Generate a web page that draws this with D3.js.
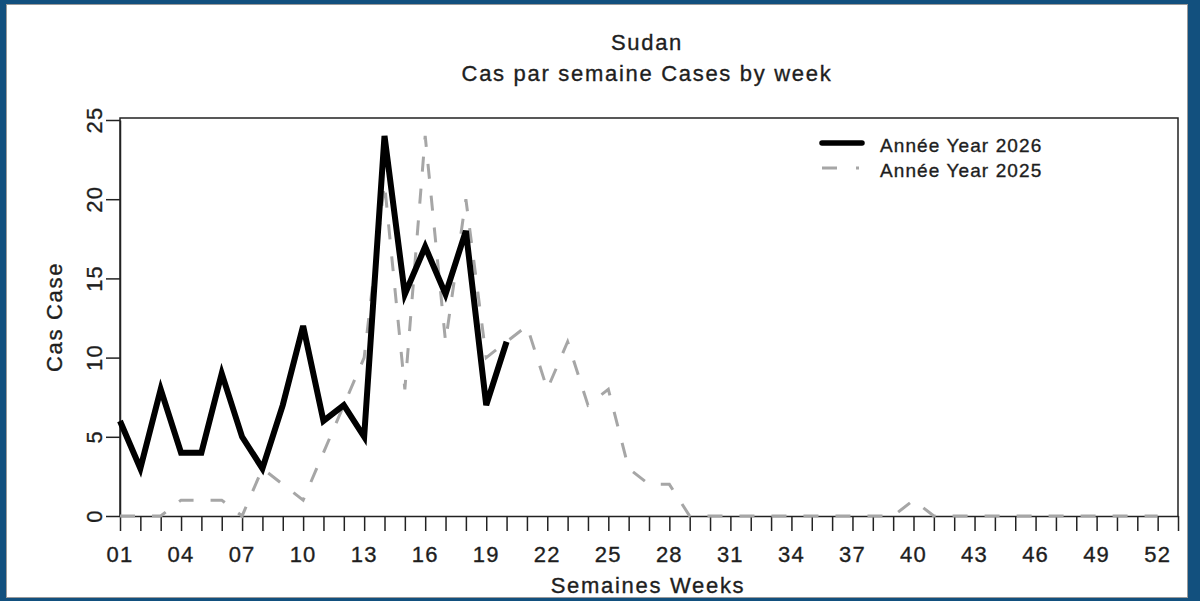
<!DOCTYPE html>
<html lang="fr">
<head>
    <meta charset="utf-8">
    <title>Sudan - Cas par semaine</title>
    <script type="text/javascript" src="https://cdn.jsdelivr.net/npm/d3@7"></script>
    <style>
        html, body { margin: 0; padding: 0; background: #ffffff; }
        svg text { font-family: "Liberation Sans", Arial, sans-serif; fill: #1e1e1e; stroke: #1e1e1e; stroke-width: 0.35px; }
    </style>
</head>
<body>
<script type="text/javascript">
    // weeks 1..20 of 2026, weeks 1..52 of 2025
    var weeks2026 = d3.range(1, 21);
    var cases2026 = [6, 3, 8, 4, 4, 9, 5, 3, 7, 12, 6, 7, 5, 24, 14, 17, 14, 18, 7, 11];

    var weeks2025 = d3.range(1, 53);
    var cases2025 = [0, 0, 0, 1, 1, 1, 0, 3, 2, 1, 4, 7, 10, 21, 8, 24, 11, 20, 10, 11,
                     12, 8, 11, 7, 8, 3, 2, 2, 0, 0, 0, 0, 0, 0, 0, 0, 0, 0, 0, 1,
                     0, 0, 0, 0, 0, 0, 0, 0, 0, 0, 0, 0];

    var yTicks = [0, 5, 10, 15, 20, 25];
    var xLabelWeeks = d3.range(1, 53, 3);   // 01, 04, ... 52
    var legendLabels = ["Année Year 2026", "Année Year 2025"];

    var w = 1200;
    var h = 601;
    // plot box edges ("top" is taken by window.top, so prefix them)
    var boxLeft = 120, boxRight = 1178, boxTop = 118, boxBottom = 516;

    var xScale = d3.scaleLinear()
        .domain([1, 53])
        .range([boxLeft, boxRight]);
    var yScale = d3.scaleLinear()
        .domain([0, 25])
        .range([boxBottom, boxTop + 2]);

    var svg = d3.select("body")
        .append("svg")
        .attr("width", w)
        .attr("height", h);

    // blue frame around the picture
    svg.append("rect")
        .attr("x", 0).attr("y", 0)
        .attr("width", w).attr("height", h)
        .attr("fill", "#12507e");
    svg.append("rect")
        .attr("x", 6.5).attr("y", 4.5)
        .attr("width", 1181).attr("height", 593)
        .attr("fill", "#ffffff")
        .attr("stroke", "#9a9a9a")
        .attr("stroke-width", 1);

    // titles
    svg.append("text")
        .attr("x", 647).attr("y", 50)
        .attr("text-anchor", "middle")
        .attr("font-size", "22px")
        .attr("letter-spacing", "1.7px")
        .text("Sudan");
    svg.append("text")
        .attr("x", 647).attr("y", 81)
        .attr("text-anchor", "middle")
        .attr("font-size", "22px")
        .attr("letter-spacing", "1.7px")
        .text("Cas par semaine Cases by week");

    // plot box (top, left, right)
    svg.append("path")
        .attr("d", "M" + boxLeft + "," + boxBottom + "V" + boxTop + "H" + boxRight + "V" + boxBottom)
        .attr("fill", "none")
        .attr("stroke", "#222")
        .attr("stroke-width", 1.5);

    // x axis: a tick every week, label every 3 weeks
    var xAxis = d3.axisBottom(xScale)
        .tickValues(d3.range(1, 54))
        .tickSize(15)
        .tickSizeOuter(0)
        .tickFormat("");
    var gx = svg.append("g")
        .attr("transform", "translate(0," + boxBottom + ")")
        .call(xAxis);
    gx.selectAll("line, path").attr("stroke", "#222").attr("stroke-width", 1.5);

    svg.selectAll("text.xlab")
        .data(xLabelWeeks)
        .enter()
        .append("text")
        .attr("class", "xlab")
        .attr("x", function(d) { return xScale(d); })
        .attr("y", 562)
        .attr("text-anchor", "middle")
        .attr("font-size", "22px")
        .attr("letter-spacing", "1.2px")
        .text(function(d) { return d3.format("02d")(d); });

    // y axis
    var yAxis = d3.axisLeft(yScale)
        .tickValues(yTicks)
        .tickSize(14)
        .tickSizeOuter(0)
        .tickFormat("");
    var gy = svg.append("g")
        .attr("transform", "translate(" + boxLeft + ",0)")
        .call(yAxis);
    gy.selectAll("line, path").attr("stroke", "#222").attr("stroke-width", 1.5);

    svg.selectAll("text.ylab")
        .data(yTicks)
        .enter()
        .append("text")
        .attr("class", "ylab")
        .attr("transform", function(d) {
            return "translate(102," + yScale(d) + ") rotate(-90)";
        })
        .attr("text-anchor", "middle")
        .attr("font-size", "22px")
        .attr("letter-spacing", "1.2px")
        .text(function(d) { return d; });

    // axis titles
    svg.append("text")
        .attr("x", 648).attr("y", 593)
        .attr("text-anchor", "middle")
        .attr("font-size", "22px")
        .attr("letter-spacing", "1.7px")
        .text("Semaines Weeks");
    svg.append("text")
        .attr("transform", "translate(62," + (boxTop + boxBottom) / 2 + ") rotate(-90)")
        .attr("text-anchor", "middle")
        .attr("font-size", "22px")
        .attr("letter-spacing", "1.7px")
        .text("Cas Case");

    // lines
    var line = d3.line()
        .x(function(d) { return xScale(d[0]); })
        .y(function(d) { return yScale(d[1]); });

    svg.append("path")
        .datum(d3.zip(weeks2025, cases2025))
        .attr("d", line)
        .attr("fill", "none")
        .attr("stroke", "#a6a6a6")
        .attr("stroke-width", 3)
        .attr("stroke-dasharray", "15,17");

    svg.append("path")
        .datum(d3.zip(weeks2026, cases2026))
        .attr("d", line)
        .attr("fill", "none")
        .attr("stroke", "#000")
        .attr("stroke-width", 6)
        .attr("stroke-linejoin", "miter");

    // legend
    var legend = svg.append("g");
    legend.append("line")
        .attr("x1", 822).attr("x2", 862)
        .attr("y1", 143).attr("y2", 143)
        .attr("stroke", "#000")
        .attr("stroke-width", 5.5)
        .attr("stroke-linecap", "round");
    legend.append("line")
        .attr("x1", 822).attr("x2", 859)
        .attr("y1", 168).attr("y2", 168)
        .attr("stroke", "#a6a6a6")
        .attr("stroke-width", 3)
        .attr("stroke-dasharray", "15,19");
    legend.selectAll("text")
        .data(legendLabels)
        .enter()
        .append("text")
        .attr("x", 880)
        .attr("y", function(d, i) { return 152 + i * 25; })
        .attr("font-size", "19px")
        .attr("letter-spacing", "1.1px")
        .text(function(d) { return d; });
</script>
</body>
</html>
